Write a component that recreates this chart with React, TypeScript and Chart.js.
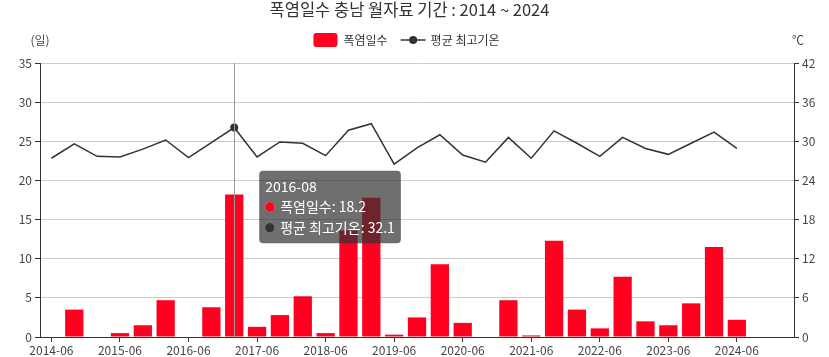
import React, { useEffect, useRef } from "react";
import { Chart, registerables, Tooltip } from "chart.js";

Chart.register(...registerables);

const titleText = "폭염일수 충남 월자료 기간 : 2014 ~ 2024";
const years = ["2014", "2015", "2016", "2017", "2018", "2019", "2020", "2021", "2022", "2023", "2024"];
const months = ["06", "07", "08"];
const categories: string[] = [];
years.forEach((y) => months.forEach((m) => categories.push(`${y}-${m}`)));

const heatDays: (number | null)[] = [
  0, 3.5, 0,
  0.5, 1.5, 4.7,
  0, 3.8, 18.2,
  1.3, 2.8, 5.2,
  0.5, 13.6, 17.8,
  0.3, 2.5, 9.3,
  1.8, 0, 4.7,
  0.2, 12.3, 3.5,
  1.1, 7.7, 2.0,
  1.5, 4.3, 11.5,
  2.2, null, null,
];

const avgMaxTemp: (number | null)[] = [
  27.4, 29.6, 27.7,
  27.6, 28.8, 30.2,
  27.5, 29.8, 32.1,
  27.6, 29.9, 29.7,
  27.8, 31.7, 32.7,
  26.5, 29.0, 31.0,
  27.9, 26.8, 30.6,
  27.4, 31.6, 29.7,
  27.7, 30.6, 28.9,
  28.0, 29.7, 31.4,
  28.9, null, null,
];

const leftTicks = { min: 0, max: 35, step: 5 };
const rightTicks = { min: 0, max: 42, step: 6 };
const activeIndex = 8;

const FONT = "'Noto Sans CJK KR', 'Noto Sans', sans-serif";
const RED = "#ff0020";
const DARK = "#333333";

(Tooltip.positioners as any).sideOfPoint = function (items: any[]) {
  if (!items.length) return false;
  const ca = this.chart.chartArea;
  return { x: items[0].element.x + 25, y: (ca.top + ca.bottom) / 2 + 7 };
};

const decorPlugin = {
  id: "decor",
  afterDatasetsDraw(chart: any) {
    const active = chart.tooltip?.getActiveElements?.() || [];
    if (!active.length) return;
    const ctx = chart.ctx;
    const x = active[0].element.x;
    const ca = chart.chartArea;
    ctx.save();
    ctx.strokeStyle = "#999";
    ctx.lineWidth = 1;
    ctx.beginPath();
    ctx.moveTo(Math.round(x) + 0.5, ca.top);
    ctx.lineTo(Math.round(x) + 0.5, ca.bottom);
    ctx.stroke();
    ctx.restore();
  },
  afterDraw(chart: any) {
    const ctx = chart.ctx;
    const ca = chart.chartArea;
    ctx.save();
    // title
    ctx.fillStyle = "#333";
    ctx.font = `16.5px ${FONT}`;
    ctx.textAlign = "center";
    ctx.textBaseline = "middle";
    ctx.fillText(titleText, chart.width / 2 - 5, 10);

    // legend
    ctx.font = `12px ${FONT}`;
    const t1 = chart.data.datasets[0].label;
    const t2 = chart.data.datasets[1].label;
    const w1 = ctx.measureText(t1).width;
    const w2 = ctx.measureText(t2).width;
    const total = 24 + 6 + w1 + 13 + 25 + 5 + w2;
    let lx = chart.width / 2 - 8 - total / 2;
    const ly = 40;
    ctx.fillStyle = RED;
    ctx.beginPath();
    (ctx as any).roundRect(lx, ly - 7, 24, 14, 3);
    ctx.fill();
    lx += 30;
    ctx.fillStyle = "#333";
    ctx.textAlign = "left";
    ctx.fillText(t1, lx, ly);
    lx += w1 + 13;
    ctx.strokeStyle = DARK;
    ctx.lineWidth = 1.5;
    ctx.beginPath();
    ctx.moveTo(lx, ly);
    ctx.lineTo(lx + 25, ly);
    ctx.stroke();
    ctx.fillStyle = DARK;
    ctx.beginPath();
    ctx.arc(lx + 12.5, ly, 4, 0, Math.PI * 2);
    ctx.fill();
    lx += 30;
    ctx.fillStyle = "#333";
    ctx.fillText(t2, lx, ly);

    // axis names
    ctx.fillStyle = "#444";
    ctx.textAlign = "center";
    ctx.fillText("(일)", ca.left, ly);
    ctx.fillText("℃", ca.right + 4, ly);
    ctx.restore();
  },
};

export default function App() {
  const canvasRef = useRef<HTMLCanvasElement | null>(null);

  useEffect(() => {
    document.body.style.margin = "0";
    const canvas = canvasRef.current;
    if (!canvas) return;
    Chart.defaults.font.family = FONT;
    const chart = new Chart(canvas, {
      type: "bar",
      data: {
        labels: categories,
        datasets: [
          {
            type: "bar",
            label: "폭염일수",
            data: heatDays,
            backgroundColor: RED,
            hoverBackgroundColor: RED,
            borderWidth: 0,
            categoryPercentage: 0.8,
            barPercentage: 1.0,
            yAxisID: "y",
          },
          {
            type: "line",
            label: "평균 최고기온",
            data: avgMaxTemp,
            borderColor: DARK,
            backgroundColor: DARK,
            borderWidth: 1.5,
            pointRadius: 0,
            pointHoverRadius: 4,
            pointHoverBorderWidth: 0,
            pointHoverBackgroundColor: DARK,
            tension: 0,
            yAxisID: "y1",
          } as any,
        ],
      },
      options: {
        animation: false,
        responsive: true,
        maintainAspectRatio: false,
        interaction: { mode: "index", intersect: false },
        layout: { padding: { top: 63, left: 0, right: 0, bottom: 0 } },
        plugins: {
          legend: { display: false },
          title: { display: false },
          tooltip: {
            enabled: true,
            position: "sideOfPoint" as any,
            xAlign: "left",
            yAlign: "center",
            caretSize: 0,
            caretPadding: 0,
            backgroundColor: "rgba(50,50,50,0.7)",
            titleColor: "#fff",
            bodyColor: "#fff",
            titleFont: { size: 14, weight: "normal", family: FONT },
            bodyFont: { size: 14, family: FONT },
            padding: { top: 7, bottom: 7, left: 6, right: 6 },
            titleMarginBottom: 4,
            bodySpacing: 4,
            cornerRadius: 4,
            usePointStyle: true,
            boxWidth: 9,
            boxHeight: 9,
            boxPadding: 4,
            callbacks: {
              labelColor: (item: any) => {
                const c = item.datasetIndex === 0 ? RED : DARK;
                return { borderColor: c, backgroundColor: c, borderWidth: 0 } as any;
              },
              labelPointStyle: () => ({ pointStyle: "circle", rotation: 0 }),
            },
          },
        },
        scales: {
          x: {
            offset: true,
            grid: {
              display: true,
              drawOnChartArea: false,
              offset: false,
              tickLength: 5,
              tickColor: "#333",
            },
            border: { color: "#333" },
            ticks: {
              autoSkip: true,
              maxTicksLimit: 11,
              maxRotation: 0,
              minRotation: 0,
              color: "#444",
              font: { size: 12, family: FONT },
              padding: 1,
            },
            afterFit: (s: any) => {
              s.height = 20;
            },
          },
          y: {
            position: "left",
            min: leftTicks.min,
            max: leftTicks.max,
            ticks: { stepSize: leftTicks.step, color: "#444", font: { size: 12, family: FONT }, padding: 3 },
            grid: { color: "#cccccc", tickLength: 5, tickColor: "#333" },
            border: { color: "#333" },
            afterFit: (s: any) => {
              s.width = 40;
            },
          },
          y1: {
            position: "right",
            min: rightTicks.min,
            max: rightTicks.max,
            ticks: { stepSize: rightTicks.step, color: "#444", font: { size: 12, family: FONT }, padding: 3 },
            grid: { drawOnChartArea: false, tickLength: 5, tickColor: "#333" },
            border: { color: "#333" },
            afterFit: (s: any) => {
              s.width = 35;
            },
          },
        },
      },
      plugins: [decorPlugin],
    });

    const active = [
      { datasetIndex: 0, index: activeIndex },
      { datasetIndex: 1, index: activeIndex },
    ];
    chart.setActiveElements(active);
    chart.tooltip?.setActiveElements(active, { x: 0, y: 0 });
    chart.update();

    return () => chart.destroy();
  }, []);

  return (
    <div style={{ width: 829, height: 357, position: "relative" }}>
      <canvas ref={canvasRef} />
    </div>
  );
}
